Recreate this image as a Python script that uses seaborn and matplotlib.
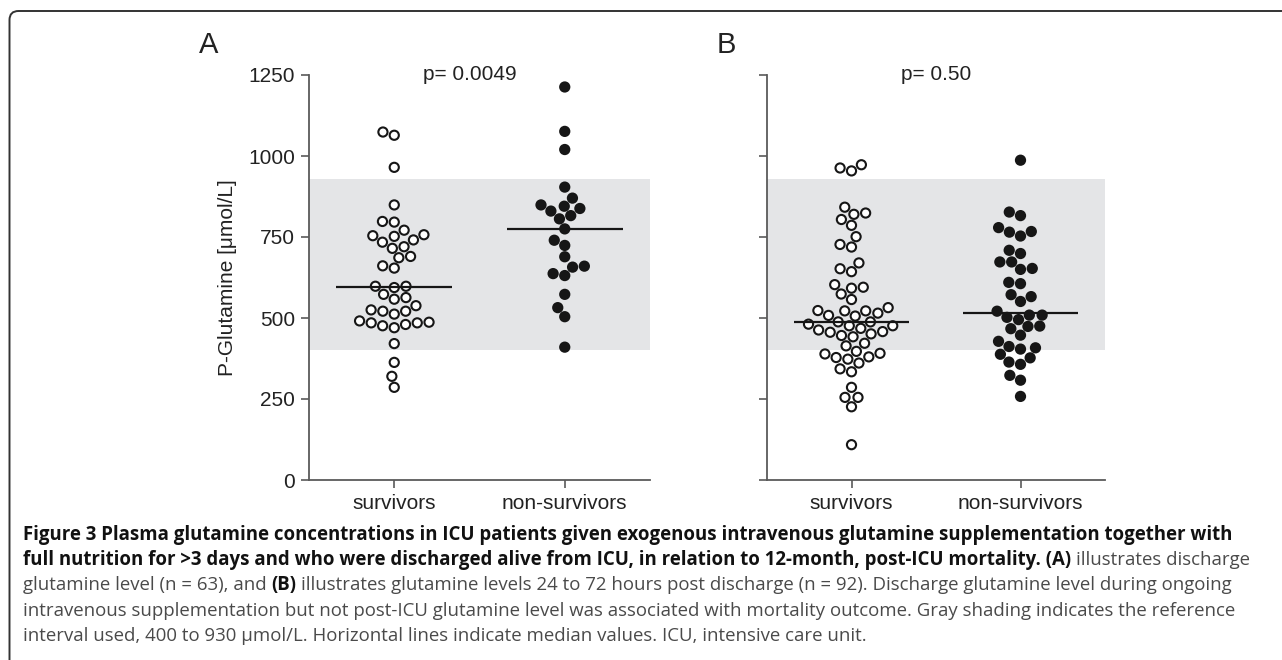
import matplotlib
matplotlib.use("Agg")
import matplotlib.pyplot as plt
import matplotlib.transforms as mtransforms
from matplotlib.patches import FancyBboxPatch
import numpy as np
import pandas as pd
import seaborn as sns

GROUPS = ["survivors", "non-survivors"]

# Panel A: discharge glutamine level (n = 63)
A_SURVIVORS = [1074, 1064, 965, 849, 798, 796, 771, 754, 741, 720, 715, 734,
               752, 757, 686, 690, 654, 661, 598, 594, 598, 573, 558, 563,
               538, 525, 521, 521, 512, 487, 485, 476, 470, 480, 485, 491,
               421, 363, 320, 286]
A_NON_SURVIVORS = [1213, 1076, 1020, 904, 870, 845, 849, 838, 830, 816, 806,
                   775, 740, 724, 689, 660, 657, 637, 631, 573, 532, 504, 410]

# Panel B: glutamine 24-72 h post discharge (n = 92)
B_SURVIVORS = [963, 954, 973, 842, 824, 804, 820, 786, 751, 719, 727, 670,
               652, 643, 603, 595, 592, 574, 557, 532, 523, 522, 515, 522,
               506, 508, 481, 476, 488, 476, 488, 463, 456, 446, 442, 451,
               458, 468, 422, 414, 397, 373, 389, 378, 380, 361, 391, 343,
               334, 286, 255, 255, 226, 109]
B_NON_SURVIVORS = [987, 816, 827, 779, 765, 753, 767, 709, 699, 673, 673, 653,
                   650, 606, 610, 566, 572, 551, 521, 509, 502, 509, 495, 475,
                   467, 474, 447, 428, 408, 404, 412, 388, 377, 357, 364, 323,
                   308, 258]

P_VALUES = ["p= 0.0049", "p= 0.50"]
PANEL_LABELS = ["A", "B"]
Y_TICKS = [0, 250, 500, 750, 1000, 1250]
REF_LOW, REF_HIGH = 400, 930

CAPTION = [
    [("Figure 3 Plasma glutamine concentrations in ICU patients given exogenous "
      "intravenous glutamine supplementation together with", True)],
    [("full nutrition for >3 days and who were discharged alive from ICU, in "
      "relation to 12-month, post-ICU mortality. (A)", True),
     ("illustrates discharge", False)],
    [("glutamine level (n = 63), and", False), ("(B)", True),
     ("illustrates glutamine levels 24 to 72 hours post discharge (n = 92). "
      "Discharge glutamine level during ongoing", False)],
    [("intravenous supplementation but not post-ICU glutamine level was "
      "associated with mortality outcome. Gray shading indicates the reference", False)],
    [("interval used, 400 to 930 \u00b5mol/L. Horizontal lines indicate median "
      "values. ICU, intensive care unit.", False)],
]

sns.set_style("ticks")
plt.rcParams["font.family"] = ["Liberation Sans", "DejaVu Sans"]

AXIS_GRAY = "#5a5a5a"
W, H = 1282, 660


def make_frame(surv, nonsurv):
    return pd.DataFrame({
        "group": ["survivors"] * len(surv) + ["non-survivors"] * len(nonsurv),
        "value": list(surv) + list(nonsurv),
    })


def draw_panel(ax, df, show_labels):
    ax.axhspan(REF_LOW, REF_HIGH, color="#e4e5e7", lw=0, zorder=0)
    sns.swarmplot(data=df, x="group", y="value", hue="group", order=GROUPS,
                  hue_order=GROUPS,
                  palette={"survivors": "white", "non-survivors": "#161616"},
                  edgecolor="#161616", linewidth=1.5, size=6.6, legend=False,
                  ax=ax, zorder=2)
    # median lines only
    sns.boxplot(data=df, x="group", y="value", order=GROUPS, width=0.68,
                showbox=False, showcaps=False, showfliers=False, whis=0,
                whiskerprops={"visible": False},
                medianprops={"color": "#161616", "linewidth": 1.6, "zorder": 3},
                ax=ax)
    ax.set_xlim(-0.5, 1.5)
    ax.set_ylim(0, 1250)
    ax.set_yticks(Y_TICKS)
    if show_labels:
        ax.set_yticklabels([str(t) for t in Y_TICKS])
        ax.set_ylabel("P-Glutamine [\u03bcmol/L]", fontsize=15, color="#222222",
                      labelpad=8)
    else:
        ax.set_yticklabels([])
        ax.set_ylabel("")
    ax.set_xlabel("")
    ax.set_xticks([0, 1])
    ax.set_xticklabels(GROUPS)
    ax.tick_params(axis="both", direction="out", length=6, width=1.2,
                   color=AXIS_GRAY, labelsize=15, labelcolor="#222222", pad=4)
    sns.despine(ax=ax)
    for side in ["left", "bottom"]:
        ax.spines[side].set_color(AXIS_GRAY)
        ax.spines[side].set_linewidth(1.3)
    ax.set_facecolor("none")


def draw_caption(fig, x0, y0, step, size):
    renderer = fig.canvas.get_renderer()
    probe = fig.text(0, 0, "a a", fontsize=size, family="Open Sans")
    probe2 = fig.text(0, 0, "aa", fontsize=size, family="Open Sans")
    space = (probe.get_window_extent(renderer).width
             - probe2.get_window_extent(renderer).width)
    probe.remove()
    probe2.remove()
    for i, runs in enumerate(CAPTION):
        x = x0
        y = H - (y0 + i * step)
        for text, bold in runs:
            t = fig.text(x / W, y / H, text, fontsize=size, family="Open Sans",
                         fontweight="bold" if bold else "normal",
                         color="#111111" if bold else "#4a4a4a",
                         va="center", ha="left")
            x = t.get_window_extent(renderer).x1 + space


fig = plt.figure(figsize=(W / 100, H / 100), dpi=100)
ax_a = fig.add_axes([309 / W, 1 - 480 / H, (650 - 309) / W, (480 - 75) / H])
ax_b = fig.add_axes([767 / W, 1 - 480 / H, (1105 - 767) / W, (480 - 75) / H])

draw_panel(ax_a, make_frame(A_SURVIVORS, A_NON_SURVIVORS), True)
draw_panel(ax_b, make_frame(B_SURVIVORS, B_NON_SURVIVORS), False)

ax_a.text(0.472, 1.0, P_VALUES[0], transform=ax_a.transAxes, ha="center",
          va="center", fontsize=15, color="#222222")
ax_b.text(0.5, 1.0, P_VALUES[1], transform=ax_b.transAxes, ha="center",
          va="center", fontsize=15, color="#222222")

fig.text(209 / W, 1 - 45 / H, PANEL_LABELS[0], fontsize=21, ha="center",
         va="center", color="#222222")
fig.text(726 / W, 1 - 45 / H, PANEL_LABELS[1], fontsize=21, ha="center",
         va="center", color="#222222")

# rounded frame: only top and left edges are inside the picture
frame = FancyBboxPatch((9.5, -40), 1320, H - 11 + 40,
                       boxstyle="round,pad=0,rounding_size=9",
                       facecolor="none", edgecolor="#333333", linewidth=1.4,
                       transform=mtransforms.IdentityTransform())
fig.add_artist(frame)

draw_caption(fig, 23, 535, 25.2, 13.45)

fig.savefig("out.png", dpi=100)
